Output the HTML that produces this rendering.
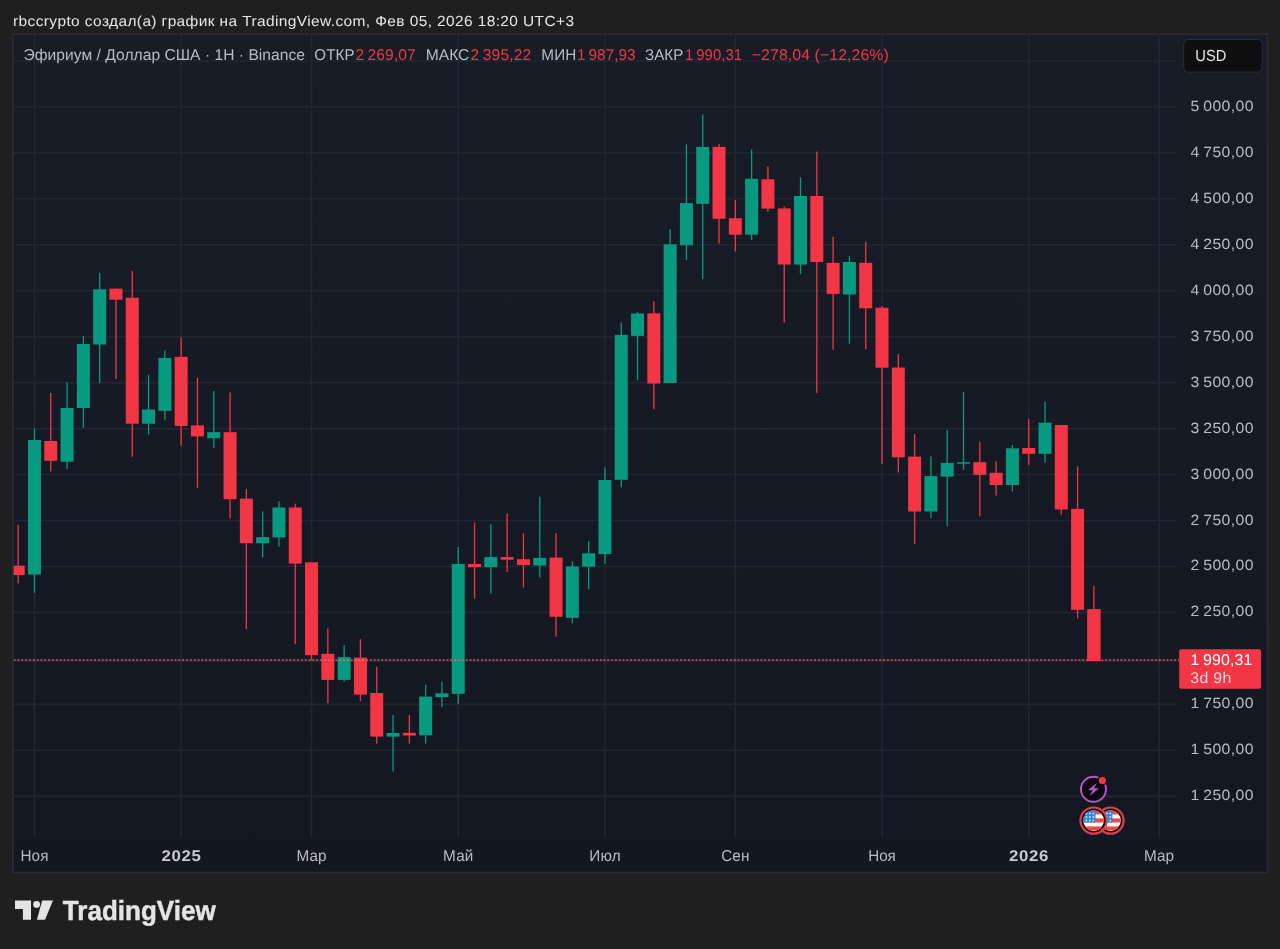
<!DOCTYPE html>
<html><head><meta charset="utf-8"><title>chart</title>
<style>html,body{margin:0;padding:0;background:#1f1f1f;}body{width:1280px;height:949px;overflow:hidden;}svg{display:block}text{font-family:"Liberation Sans",sans-serif;}</style></head><body>
<svg width="1280" height="949" viewBox="0 0 1280 949">
<rect x="0" y="0" width="1280" height="949" fill="#1f1f1f"/>
<rect x="12" y="33.2" width="1256.3" height="840.2" fill="#292b30"/>
<defs><linearGradient id="bgg" x1="0" y1="0" x2="0" y2="1"><stop offset="0" stop-color="#181c27"/><stop offset="1" stop-color="#131722"/></linearGradient></defs>
<rect x="13.7" y="34.9" width="1252.9" height="836.8" fill="url(#bgg)"/>
<clipPath id="cp"><rect x="13.7" y="34.9" width="1252.9" height="836.8"/></clipPath>
<g stroke="#212631" stroke-width="1.6" clip-path="url(#cp)">
<line x1="12" y1="60.94" x2="1176.5" y2="60.94"/>
<line x1="12" y1="106.897" x2="1176.5" y2="106.897"/>
<line x1="12" y1="152.854" x2="1176.5" y2="152.854"/>
<line x1="12" y1="198.811" x2="1176.5" y2="198.811"/>
<line x1="12" y1="244.768" x2="1176.5" y2="244.768"/>
<line x1="12" y1="290.725" x2="1176.5" y2="290.725"/>
<line x1="12" y1="336.682" x2="1176.5" y2="336.682"/>
<line x1="12" y1="382.639" x2="1176.5" y2="382.639"/>
<line x1="12" y1="428.596" x2="1176.5" y2="428.596"/>
<line x1="12" y1="474.553" x2="1176.5" y2="474.553"/>
<line x1="12" y1="520.51" x2="1176.5" y2="520.51"/>
<line x1="12" y1="566.467" x2="1176.5" y2="566.467"/>
<line x1="12" y1="612.424" x2="1176.5" y2="612.424"/>
<line x1="12" y1="704.338" x2="1176.5" y2="704.338"/>
<line x1="12" y1="750.295" x2="1176.5" y2="750.295"/>
<line x1="12" y1="796.252" x2="1176.5" y2="796.252"/>
<line x1="34.469" y1="33.2" x2="34.469" y2="837"/>
<line x1="181.16" y1="33.2" x2="181.16" y2="837"/>
<line x1="311.552" y1="33.2" x2="311.552" y2="837"/>
<line x1="458.243" y1="33.2" x2="458.243" y2="837"/>
<line x1="604.934" y1="33.2" x2="604.934" y2="837"/>
<line x1="735.326" y1="33.2" x2="735.326" y2="837"/>
<line x1="882.017" y1="33.2" x2="882.017" y2="837"/>
<line x1="1028.71" y1="33.2" x2="1028.71" y2="837"/>
<line x1="1159.1" y1="33.2" x2="1159.1" y2="837"/>
</g>
<g clip-path="url(#cp)">
<rect x="17.52" y="524.70" width="1.3" height="58.70" fill="#f23645"/>
<rect x="11.67" y="565.70" width="13.00" height="9.30" fill="#f23645"/>
<rect x="33.82" y="428.50" width="1.3" height="164.30" fill="#089981"/>
<rect x="27.97" y="440.00" width="13.00" height="134.50" fill="#089981"/>
<rect x="50.12" y="393.00" width="1.3" height="78.50" fill="#f23645"/>
<rect x="44.27" y="441.00" width="13.00" height="19.80" fill="#f23645"/>
<rect x="66.42" y="382.40" width="1.3" height="86.60" fill="#089981"/>
<rect x="60.57" y="408.00" width="13.00" height="53.70" fill="#089981"/>
<rect x="82.72" y="336.00" width="1.3" height="91.70" fill="#089981"/>
<rect x="76.87" y="344.00" width="13.00" height="64.00" fill="#089981"/>
<rect x="99.02" y="272.90" width="1.3" height="110.10" fill="#089981"/>
<rect x="93.17" y="289.30" width="13.00" height="55.20" fill="#089981"/>
<rect x="115.31" y="288.60" width="1.3" height="90.40" fill="#f23645"/>
<rect x="109.46" y="288.60" width="13.00" height="11.10" fill="#f23645"/>
<rect x="131.61" y="270.90" width="1.3" height="185.90" fill="#f23645"/>
<rect x="125.76" y="297.70" width="13.00" height="126.00" fill="#f23645"/>
<rect x="147.91" y="374.80" width="1.3" height="59.70" fill="#089981"/>
<rect x="142.06" y="409.50" width="13.00" height="14.20" fill="#089981"/>
<rect x="164.21" y="350.50" width="1.3" height="69.20" fill="#089981"/>
<rect x="158.36" y="358.00" width="13.00" height="52.80" fill="#089981"/>
<rect x="180.51" y="337.40" width="1.3" height="108.30" fill="#f23645"/>
<rect x="174.66" y="356.90" width="13.00" height="69.10" fill="#f23645"/>
<rect x="196.81" y="377.90" width="1.3" height="109.90" fill="#f23645"/>
<rect x="190.96" y="425.40" width="13.00" height="11.00" fill="#f23645"/>
<rect x="213.11" y="391.00" width="1.3" height="56.80" fill="#089981"/>
<rect x="207.26" y="432.20" width="13.00" height="6.00" fill="#089981"/>
<rect x="229.41" y="392.50" width="1.3" height="125.90" fill="#f23645"/>
<rect x="223.56" y="432.20" width="13.00" height="67.00" fill="#f23645"/>
<rect x="245.71" y="489.00" width="1.3" height="140.00" fill="#f23645"/>
<rect x="239.86" y="498.70" width="13.00" height="44.50" fill="#f23645"/>
<rect x="262.00" y="511.30" width="1.3" height="46.00" fill="#089981"/>
<rect x="256.15" y="537.10" width="13.00" height="6.10" fill="#089981"/>
<rect x="278.30" y="501.20" width="1.3" height="45.50" fill="#089981"/>
<rect x="272.45" y="507.50" width="13.00" height="29.90" fill="#089981"/>
<rect x="294.60" y="503.70" width="1.3" height="140.50" fill="#f23645"/>
<rect x="288.75" y="507.50" width="13.00" height="56.10" fill="#f23645"/>
<rect x="310.90" y="562.30" width="1.3" height="97.90" fill="#f23645"/>
<rect x="305.05" y="562.30" width="13.00" height="92.80" fill="#f23645"/>
<rect x="327.20" y="628.50" width="1.3" height="74.70" fill="#f23645"/>
<rect x="321.35" y="653.80" width="13.00" height="26.10" fill="#f23645"/>
<rect x="343.50" y="645.00" width="1.3" height="36.70" fill="#089981"/>
<rect x="337.65" y="657.10" width="13.00" height="22.80" fill="#089981"/>
<rect x="359.80" y="639.20" width="1.3" height="61.90" fill="#f23645"/>
<rect x="353.95" y="657.60" width="13.00" height="37.00" fill="#f23645"/>
<rect x="376.10" y="666.50" width="1.3" height="77.10" fill="#f23645"/>
<rect x="370.25" y="693.00" width="13.00" height="43.60" fill="#f23645"/>
<rect x="392.40" y="715.00" width="1.3" height="56.50" fill="#089981"/>
<rect x="386.55" y="733.00" width="13.00" height="3.60" fill="#089981"/>
<rect x="408.70" y="715.00" width="1.3" height="28.60" fill="#f23645"/>
<rect x="402.85" y="732.80" width="13.00" height="2.70" fill="#f23645"/>
<rect x="425.00" y="684.70" width="1.3" height="58.90" fill="#089981"/>
<rect x="419.14" y="696.60" width="13.00" height="38.70" fill="#089981"/>
<rect x="441.29" y="681.70" width="1.3" height="25.30" fill="#089981"/>
<rect x="435.44" y="693.30" width="13.00" height="3.80" fill="#089981"/>
<rect x="457.59" y="546.90" width="1.3" height="157.00" fill="#089981"/>
<rect x="451.74" y="564.00" width="13.00" height="129.80" fill="#089981"/>
<rect x="473.89" y="522.70" width="1.3" height="75.90" fill="#f23645"/>
<rect x="468.04" y="564.00" width="13.00" height="3.20" fill="#f23645"/>
<rect x="490.19" y="524.20" width="1.3" height="69.50" fill="#089981"/>
<rect x="484.34" y="557.10" width="13.00" height="10.10" fill="#089981"/>
<rect x="506.49" y="513.40" width="1.3" height="58.60" fill="#f23645"/>
<rect x="500.64" y="557.10" width="13.00" height="2.60" fill="#f23645"/>
<rect x="522.79" y="533.10" width="1.3" height="54.40" fill="#f23645"/>
<rect x="516.94" y="559.20" width="13.00" height="5.80" fill="#f23645"/>
<rect x="539.09" y="496.70" width="1.3" height="80.70" fill="#089981"/>
<rect x="533.24" y="557.90" width="13.00" height="7.60" fill="#089981"/>
<rect x="555.39" y="533.10" width="1.3" height="103.70" fill="#f23645"/>
<rect x="549.54" y="557.60" width="13.00" height="59.20" fill="#f23645"/>
<rect x="571.69" y="561.40" width="1.3" height="62.00" fill="#089981"/>
<rect x="565.84" y="566.50" width="13.00" height="51.30" fill="#089981"/>
<rect x="587.99" y="541.20" width="1.3" height="48.10" fill="#089981"/>
<rect x="582.13" y="553.30" width="13.00" height="13.40" fill="#089981"/>
<rect x="604.28" y="467.40" width="1.3" height="96.60" fill="#089981"/>
<rect x="598.43" y="480.00" width="13.00" height="74.10" fill="#089981"/>
<rect x="620.58" y="322.50" width="1.3" height="164.90" fill="#089981"/>
<rect x="614.73" y="334.90" width="13.00" height="144.90" fill="#089981"/>
<rect x="636.88" y="312.10" width="1.3" height="68.30" fill="#089981"/>
<rect x="631.03" y="313.50" width="13.00" height="22.40" fill="#089981"/>
<rect x="653.18" y="301.20" width="1.3" height="108.10" fill="#f23645"/>
<rect x="647.33" y="313.30" width="13.00" height="70.20" fill="#f23645"/>
<rect x="669.48" y="229.10" width="1.3" height="153.90" fill="#089981"/>
<rect x="663.63" y="244.30" width="13.00" height="138.70" fill="#089981"/>
<rect x="685.78" y="144.40" width="1.3" height="115.60" fill="#089981"/>
<rect x="679.93" y="203.10" width="13.00" height="42.20" fill="#089981"/>
<rect x="702.08" y="114.50" width="1.3" height="164.70" fill="#089981"/>
<rect x="696.23" y="146.90" width="13.00" height="56.90" fill="#089981"/>
<rect x="718.38" y="143.90" width="1.3" height="99.70" fill="#f23645"/>
<rect x="712.53" y="146.90" width="13.00" height="71.90" fill="#f23645"/>
<rect x="734.68" y="200.00" width="1.3" height="51.40" fill="#f23645"/>
<rect x="728.83" y="218.30" width="13.00" height="16.40" fill="#f23645"/>
<rect x="750.97" y="149.40" width="1.3" height="90.40" fill="#089981"/>
<rect x="745.12" y="178.80" width="13.00" height="55.90" fill="#089981"/>
<rect x="767.27" y="166.40" width="1.3" height="45.30" fill="#f23645"/>
<rect x="761.42" y="179.30" width="13.00" height="29.30" fill="#f23645"/>
<rect x="783.57" y="206.40" width="1.3" height="116.20" fill="#f23645"/>
<rect x="777.72" y="208.40" width="13.00" height="56.20" fill="#f23645"/>
<rect x="799.87" y="177.30" width="1.3" height="96.90" fill="#089981"/>
<rect x="794.02" y="196.00" width="13.00" height="68.60" fill="#089981"/>
<rect x="816.17" y="151.50" width="1.3" height="241.50" fill="#f23645"/>
<rect x="810.32" y="196.00" width="13.00" height="66.00" fill="#f23645"/>
<rect x="832.47" y="236.70" width="1.3" height="113.10" fill="#f23645"/>
<rect x="826.62" y="262.80" width="13.00" height="31.10" fill="#f23645"/>
<rect x="848.77" y="256.20" width="1.3" height="87.50" fill="#089981"/>
<rect x="842.92" y="262.00" width="13.00" height="32.40" fill="#089981"/>
<rect x="865.07" y="241.80" width="1.3" height="107.50" fill="#f23645"/>
<rect x="859.22" y="262.80" width="13.00" height="45.50" fill="#f23645"/>
<rect x="881.37" y="306.00" width="1.3" height="158.00" fill="#f23645"/>
<rect x="875.52" y="307.70" width="13.00" height="60.00" fill="#f23645"/>
<rect x="897.67" y="354.00" width="1.3" height="118.50" fill="#f23645"/>
<rect x="891.82" y="367.50" width="13.00" height="89.80" fill="#f23645"/>
<rect x="913.96" y="434.10" width="1.3" height="109.80" fill="#f23645"/>
<rect x="908.11" y="456.60" width="13.00" height="54.90" fill="#f23645"/>
<rect x="930.26" y="456.40" width="1.3" height="61.90" fill="#089981"/>
<rect x="924.41" y="476.10" width="13.00" height="35.40" fill="#089981"/>
<rect x="946.56" y="430.30" width="1.3" height="96.10" fill="#089981"/>
<rect x="940.71" y="462.90" width="13.00" height="13.70" fill="#089981"/>
<rect x="962.86" y="392.10" width="1.3" height="77.70" fill="#089981"/>
<rect x="957.01" y="462.20" width="13.00" height="1.50" fill="#089981"/>
<rect x="979.16" y="441.70" width="1.3" height="74.60" fill="#f23645"/>
<rect x="973.31" y="462.20" width="13.00" height="12.60" fill="#f23645"/>
<rect x="995.46" y="461.40" width="1.3" height="34.20" fill="#f23645"/>
<rect x="989.61" y="472.80" width="13.00" height="12.20" fill="#f23645"/>
<rect x="1011.76" y="445.00" width="1.3" height="46.30" fill="#089981"/>
<rect x="1005.91" y="448.30" width="13.00" height="36.70" fill="#089981"/>
<rect x="1028.06" y="418.90" width="1.3" height="46.10" fill="#f23645"/>
<rect x="1022.21" y="448.00" width="13.00" height="5.80" fill="#f23645"/>
<rect x="1044.36" y="401.50" width="1.3" height="61.20" fill="#089981"/>
<rect x="1038.51" y="422.70" width="13.00" height="31.10" fill="#089981"/>
<rect x="1060.66" y="425.00" width="1.3" height="89.40" fill="#f23645"/>
<rect x="1054.81" y="425.00" width="13.00" height="84.50" fill="#f23645"/>
<rect x="1076.95" y="466.50" width="1.3" height="151.90" fill="#f23645"/>
<rect x="1071.11" y="508.90" width="13.00" height="100.90" fill="#f23645"/>
<rect x="1093.25" y="585.70" width="1.3" height="75.20" fill="#f23645"/>
<rect x="1087.40" y="609.30" width="13.00" height="51.60" fill="#f23645"/>
</g>
<rect x="13.7" y="658.3" width="1165.5" height="3.8" fill="#f23645" fill-opacity="0.12"/>
<line x1="13.7" y1="660.2" x2="1179.2" y2="660.2" stroke="#cf8794" stroke-opacity="0.72" stroke-width="1.5" stroke-dasharray="1.9 1.93" clip-path="url(#cp)"/>
<rect x="1087.40" y="609.30" width="13.00" height="51.60" fill="#f23645"/>
<rect x="1183.7" y="39.5" width="78.5" height="32.6" rx="4" ry="4" fill="#0f0f0f" stroke="#2a2e39" stroke-width="1"/>
<rect x="1179.2" y="649.2" width="81.8" height="39.6" rx="2" ry="2" fill="#f23645"/>
<g>
<circle cx="1093.45" cy="789.25" r="12.5" fill="#0a0a10" stroke="#b957c9" stroke-width="1.9"/>
<path d="M1096.8 783 L1088.1 789.9 L1092.7 790.2 L1089.6 796 L1098.8 788.6 L1094.1 788.3 Z" fill="#b957c9"/>
<circle cx="1102.4" cy="780.5" r="4.9" fill="#100c14"/>
<circle cx="1102.4" cy="780.5" r="3.6" fill="#f23645"/>
</g>
<circle cx="1110.5" cy="820.6" r="14.2" fill="#de3f4d"/>
<circle cx="1110.5" cy="820.6" r="12.0" fill="#14060a"/>
<clipPath id="fcb"><circle cx="1110.5" cy="820.6" r="10.3"/></clipPath>
<g clip-path="url(#fcb)">
<rect x="1100" y="810.3" width="21" height="21" fill="#ffffff"/>
<rect x="1100" y="810.3" width="21" height="4.1" fill="#f4473f"/>
<rect x="1100" y="818.38" width="21" height="4.1" fill="#f4473f"/>
<rect x="1100" y="826.46" width="21" height="4.1" fill="#f4473f"/>
<rect x="1100" y="810.3" width="12.4" height="12.2" fill="#2a86e8"/>
<rect x="1102.5" y="812.7" width="1.6" height="1.6" fill="#d9ecff"/>
<rect x="1106" y="812.7" width="1.6" height="1.6" fill="#d9ecff"/>
<rect x="1109.5" y="812.7" width="1.6" height="1.6" fill="#d9ecff"/>
<rect x="1102.5" y="816.2" width="1.6" height="1.6" fill="#d9ecff"/>
<rect x="1106" y="816.2" width="1.6" height="1.6" fill="#d9ecff"/>
<rect x="1109.5" y="816.2" width="1.6" height="1.6" fill="#d9ecff"/>
<rect x="1102.5" y="819.7" width="1.6" height="1.6" fill="#d9ecff"/>
<rect x="1106" y="819.7" width="1.6" height="1.6" fill="#d9ecff"/>
<rect x="1109.5" y="819.7" width="1.6" height="1.6" fill="#d9ecff"/>
</g>
<circle cx="1093.6" cy="820.6" r="14.2" fill="#de3f4d"/>
<circle cx="1093.6" cy="820.6" r="12.0" fill="#14060a"/>
<clipPath id="fca"><circle cx="1093.6" cy="820.6" r="10.3"/></clipPath>
<g clip-path="url(#fca)">
<rect x="1083.1" y="810.3" width="21" height="21" fill="#ffffff"/>
<rect x="1083.1" y="810.3" width="21" height="4.1" fill="#f4473f"/>
<rect x="1083.1" y="818.38" width="21" height="4.1" fill="#f4473f"/>
<rect x="1083.1" y="826.46" width="21" height="4.1" fill="#f4473f"/>
<rect x="1083.1" y="810.3" width="12.4" height="12.2" fill="#2a86e8"/>
<rect x="1085.6" y="812.7" width="1.6" height="1.6" fill="#d9ecff"/>
<rect x="1089.1" y="812.7" width="1.6" height="1.6" fill="#d9ecff"/>
<rect x="1092.6" y="812.7" width="1.6" height="1.6" fill="#d9ecff"/>
<rect x="1085.6" y="816.2" width="1.6" height="1.6" fill="#d9ecff"/>
<rect x="1089.1" y="816.2" width="1.6" height="1.6" fill="#d9ecff"/>
<rect x="1092.6" y="816.2" width="1.6" height="1.6" fill="#d9ecff"/>
<rect x="1085.6" y="819.7" width="1.6" height="1.6" fill="#d9ecff"/>
<rect x="1089.1" y="819.7" width="1.6" height="1.6" fill="#d9ecff"/>
<rect x="1092.6" y="819.7" width="1.6" height="1.6" fill="#d9ecff"/>
</g>
<g fill="#e4e4e4">
<path d="M15 900.6 H31 V919.8 H22.9 V909 H15 Z"/>
<circle cx="36.6" cy="904.4" r="3.4"/>
<path d="M42.2 900.6 H53 L45 919.8 H36.9 Z"/>
</g>
<filter id="nf" x="0" y="0" width="1280" height="949" filterUnits="userSpaceOnUse"><feOffset dx="0" dy="0"/></filter>
<g filter="url(#nf)" text-rendering="geometricPrecision">
<text transform="translate(13 25.6) scale(1.06 1)" font-size="14.6" fill="#e6e6e6" text-anchor="start" font-weight="normal" textLength="529.25" lengthAdjust="spacing">rbccrypto создал(а) график на TradingView.com, Фев 05, 2026 18:20 UTC+3</text>
<text transform="translate(23.5 59.9) scale(1 1)" font-size="15.6" fill="#b9bcc5" text-anchor="start" font-weight="normal" textLength="281.50" lengthAdjust="spacing">Эфириум / Доллар США · 1Н · Binance</text>
<text transform="translate(314.3 59.9) scale(0.97 1)" font-size="15.6" fill="#b9bcc5" text-anchor="start" font-weight="normal" textLength="41.44" lengthAdjust="spacing">ОТКР</text>
<text transform="translate(355.5 59.9) scale(1 1)" font-size="15.6" fill="#f23645" text-anchor="start" font-weight="normal" textLength="60.30" lengthAdjust="spacing">2 269,07</text>
<text transform="translate(425.8 59.9) scale(1 1)" font-size="15.6" fill="#b9bcc5" text-anchor="start" font-weight="normal" textLength="43.50" lengthAdjust="spacing">МАКС</text>
<text transform="translate(470.5 59.9) scale(1 1)" font-size="15.6" fill="#f23645" text-anchor="start" font-weight="normal" textLength="60.80" lengthAdjust="spacing">2 395,22</text>
<text transform="translate(541.3 59.9) scale(0.98 1)" font-size="15.6" fill="#b9bcc5" text-anchor="start" font-weight="normal" textLength="35.71" lengthAdjust="spacing">МИН</text>
<text transform="translate(577 59.9) scale(0.98 1)" font-size="15.6" fill="#f23645" text-anchor="start" font-weight="normal" textLength="59.69" lengthAdjust="spacing">1 987,93</text>
<text transform="translate(645 59.9) scale(0.97 1)" font-size="15.6" fill="#b9bcc5" text-anchor="start" font-weight="normal" textLength="39.48" lengthAdjust="spacing">ЗАКР</text>
<text transform="translate(685 59.9) scale(0.955 1)" font-size="15.6" fill="#f23645" text-anchor="start" font-weight="normal" textLength="59.69" lengthAdjust="spacing">1 990,31</text>
<text transform="translate(751.8 59.9) scale(1.02 1)" font-size="15.6" fill="#f23645" text-anchor="start" font-weight="normal" textLength="134.31" lengthAdjust="spacing">−278,04 (−12,26%)</text>
<text transform="translate(1195.3 61.1) scale(0.92 1)" font-size="16" fill="#e6e6e6" text-anchor="start" font-weight="normal" textLength="33.91" lengthAdjust="spacing">USD</text>
<text transform="translate(1190.5 110.9) scale(1.06 1)" font-size="14.9" fill="#b9bcc5" text-anchor="start" font-weight="normal" textLength="59.43" lengthAdjust="spacing">5 000,00</text>
<text transform="translate(1190.5 156.857) scale(1.06 1)" font-size="14.9" fill="#b9bcc5" text-anchor="start" font-weight="normal" textLength="59.43" lengthAdjust="spacing">4 750,00</text>
<text transform="translate(1190.5 202.814) scale(1.06 1)" font-size="14.9" fill="#b9bcc5" text-anchor="start" font-weight="normal" textLength="59.43" lengthAdjust="spacing">4 500,00</text>
<text transform="translate(1190.5 248.771) scale(1.06 1)" font-size="14.9" fill="#b9bcc5" text-anchor="start" font-weight="normal" textLength="59.43" lengthAdjust="spacing">4 250,00</text>
<text transform="translate(1190.5 294.728) scale(1.06 1)" font-size="14.9" fill="#b9bcc5" text-anchor="start" font-weight="normal" textLength="59.43" lengthAdjust="spacing">4 000,00</text>
<text transform="translate(1190.5 340.685) scale(1.06 1)" font-size="14.9" fill="#b9bcc5" text-anchor="start" font-weight="normal" textLength="59.43" lengthAdjust="spacing">3 750,00</text>
<text transform="translate(1190.5 386.642) scale(1.06 1)" font-size="14.9" fill="#b9bcc5" text-anchor="start" font-weight="normal" textLength="59.43" lengthAdjust="spacing">3 500,00</text>
<text transform="translate(1190.5 432.599) scale(1.06 1)" font-size="14.9" fill="#b9bcc5" text-anchor="start" font-weight="normal" textLength="59.43" lengthAdjust="spacing">3 250,00</text>
<text transform="translate(1190.5 478.556) scale(1.06 1)" font-size="14.9" fill="#b9bcc5" text-anchor="start" font-weight="normal" textLength="59.43" lengthAdjust="spacing">3 000,00</text>
<text transform="translate(1190.5 524.513) scale(1.06 1)" font-size="14.9" fill="#b9bcc5" text-anchor="start" font-weight="normal" textLength="59.43" lengthAdjust="spacing">2 750,00</text>
<text transform="translate(1190.5 570.47) scale(1.06 1)" font-size="14.9" fill="#b9bcc5" text-anchor="start" font-weight="normal" textLength="59.43" lengthAdjust="spacing">2 500,00</text>
<text transform="translate(1190.5 616.427) scale(1.06 1)" font-size="14.9" fill="#b9bcc5" text-anchor="start" font-weight="normal" textLength="59.43" lengthAdjust="spacing">2 250,00</text>
<text transform="translate(1190.5 708.341) scale(1.06 1)" font-size="14.9" fill="#b9bcc5" text-anchor="start" font-weight="normal" textLength="59.43" lengthAdjust="spacing">1 750,00</text>
<text transform="translate(1190.5 754.298) scale(1.06 1)" font-size="14.9" fill="#b9bcc5" text-anchor="start" font-weight="normal" textLength="59.43" lengthAdjust="spacing">1 500,00</text>
<text transform="translate(1190.5 800.255) scale(1.06 1)" font-size="14.9" fill="#b9bcc5" text-anchor="start" font-weight="normal" textLength="59.43" lengthAdjust="spacing">1 250,00</text>
<text transform="translate(1190.5 665) scale(1.02 1)" font-size="15.6" fill="#ffffff" text-anchor="start" font-weight="normal" textLength="60.78" lengthAdjust="spacing">1 990,31</text>
<text transform="translate(1190.3 683) scale(1.03 1)" font-size="15.4" fill="#fdd6da" text-anchor="start" font-weight="normal" textLength="39.81" lengthAdjust="spacing">3d 9h</text>
<text transform="translate(20.469 861.4) scale(0.965 1)" font-size="15.8" fill="#b9bcc5" text-anchor="start" font-weight="normal" textLength="29.02" lengthAdjust="spacing">Ноя</text>
<text transform="translate(161.41 861.4) scale(1.085 1)" font-size="15.5" fill="#c8cad1" text-anchor="start" font-weight="bold" textLength="36.41" lengthAdjust="spacing">2025</text>
<text transform="translate(296.552 861.4) scale(0.965 1)" font-size="15.8" fill="#b9bcc5" text-anchor="start" font-weight="normal" textLength="31.09" lengthAdjust="spacing">Мар</text>
<text transform="translate(443.093 861.4) scale(0.965 1)" font-size="15.8" fill="#b9bcc5" text-anchor="start" font-weight="normal" textLength="31.40" lengthAdjust="spacing">Май</text>
<text transform="translate(589.334 861.4) scale(0.965 1)" font-size="15.8" fill="#b9bcc5" text-anchor="start" font-weight="normal" textLength="32.33" lengthAdjust="spacing">Июл</text>
<text transform="translate(721.226 861.4) scale(0.965 1)" font-size="15.8" fill="#b9bcc5" text-anchor="start" font-weight="normal" textLength="29.22" lengthAdjust="spacing">Сен</text>
<text transform="translate(868.267 861.4) scale(0.965 1)" font-size="15.8" fill="#b9bcc5" text-anchor="start" font-weight="normal" textLength="28.50" lengthAdjust="spacing">Ноя</text>
<text transform="translate(1008.96 861.4) scale(1.085 1)" font-size="15.5" fill="#c8cad1" text-anchor="start" font-weight="bold" textLength="36.41" lengthAdjust="spacing">2026</text>
<text transform="translate(1144.1 861.4) scale(0.965 1)" font-size="15.8" fill="#b9bcc5" text-anchor="start" font-weight="normal" textLength="31.09" lengthAdjust="spacing">Мар</text>
<text transform="translate(62.8 919.8) scale(0.94 1)" font-size="27.6" fill="#e4e4e4" text-anchor="start" font-weight="bold" textLength="162.55" lengthAdjust="spacing" stroke="#e4e4e4" stroke-width="0.5">TradingView</text>
</g>
</svg></body></html>
